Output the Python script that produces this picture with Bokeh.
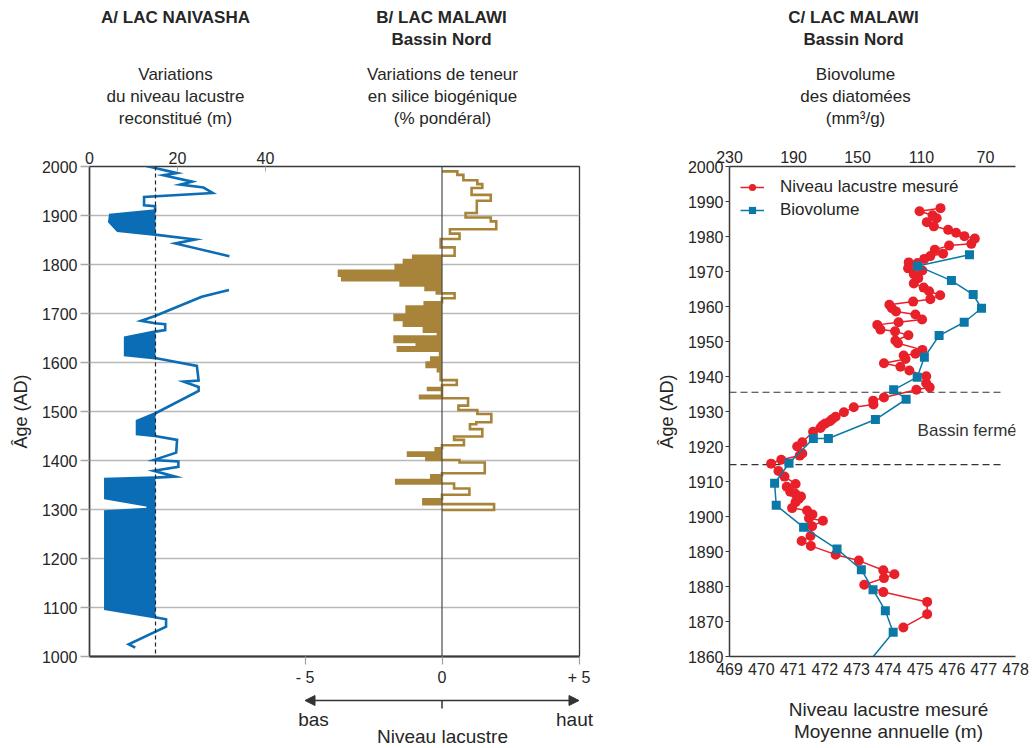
import numpy as np
from bokeh.plotting import figure
from bokeh.models import (Range1d, LinearAxis, FixedTicker, Label, Arrow, NormalHead,
                          Legend, LegendItem, Span, CustomJSTickFormatter)
from bokeh.layouts import row, column
from bokeh.embed import file_html
from bokeh.resources import INLINE
from bokeh.core.properties import value

# ---------------- data ----------------
# A / Lac Naivasha : reconstructed lake level (m) vs age
naivasha_years_1 = [2001, 1997, 1986.5, 1982, 1969, 1963, 1957, 1946, 1938, 1921, 1919, 1910,
                    1901, 1887, 1869, 1861, 1851, 1843, 1817]
naivasha_level_1 = [12.9, 14.9, 19.9, 16.8, 23.3, 20.6, 25.9, 28.0, 12.4, 12.4, 14.9, 14.9,
                    4.7, 4.5, 6.4, 14.9, 24.0, 19.5, 31.8]
naivasha_years_2 = [1748, 1734, 1695, 1685, 1680, 1678, 1666, 1663, 1651, 1615,
                    1609, 1593, 1563, 1561, 1550, 1542, 1496, 1481, 1454, 1450,
                    1442, 1416, 1401, 1398, 1387, 1379, 1367, 1365, 1362, 1323,
                    1308, 1301, 1296, 1097, 1080, 1076, 1061, 1025, 1018]
naivasha_level_2 = [31.7, 25.5, 14.9, 11.7, 14.9, 17.2, 17.2, 14.9, 8.1, 8.1,
                    14.9, 24.4, 24.8, 21.4, 24.8, 24.8, 14.9, 10.8, 10.8, 14.9,
                    19.9, 19.7, 14.6, 20.2, 20.2, 14.6, 19.5, 14.9, 3.6, 3.6,
                    13.2, 13.2, 3.6, 3.6, 14.9, 17.4, 17.4, 8.9, 10.4]
naivasha_ref_level = 15
naivasha_dry_episodes = [(1910, 1861), (1663, 1609), (1496, 1450), (1365, 1080)]

# B / Lac Malawi : biogenic silica anomaly, stepped (interval bounds + values)
silica_bounds = [1990, 1983, 1972, 1964, 1956, 1942, 1930, 1905, 1896, 1888,
                 1872, 1863, 1852, 1835, 1818, 1809, 1799, 1787, 1777, 1768,
                 1757, 1748, 1741, 1731, 1723, 1714, 1697, 1687, 1675, 1663,
                 1653, 1642, 1631, 1624, 1610, 1600, 1591, 1582, 1564, 1554,
                 1548, 1544, 1532, 1527, 1512, 1503, 1495, 1478, 1474, 1464,
                 1449, 1442, 1431, 1425, 1416, 1410, 1401, 1396, 1374, 1370,
                 1360, 1353, 1343, 1330, 1321, 1311, 1299]
silica_values = [0.56, 0.78, 1.29, 1.47, 1.08, 1.78, 1.27, 0.86, 1.78, 1.98,
                 0.29, 0.64, -0.05, 0.46, -1.05, -1.39, -1.69, -3.76, -3.64, -1.51,
                 -0.6, -0.19, 0.46, 0.0, -0.63, -1.29, -1.73, -1.39, -0.66, -0.15,
                 -1.73, -0.92, -1.61, -0.07, -0.39, -0.56, -0.15, -0.05, 0.54, 0.0,
                 -0.51, 0.0, -0.8, 0.95, 0.6, 1.29, 1.8, 1.25, 1.02, 1.47,
                 0.44, 0.8, 0.0, -0.23, -1.24, -0.57, 0.64, 1.56, 0.0, -0.39,
                 -1.67, 0.44, 1.0, 0.0, -0.68, 1.9]

# C / Lac Malawi : measured lake level (m) and diatom biovolume (mm3/g)
lake_years = [1988.1, 1987.2, 1986.05, 1985.2, 1984.1, 1982.9, 1981.9, 1981.05, 1980.1, 1979.4,
              1977.9, 1977.4, 1976.2, 1975.1, 1974.4, 1973.6, 1972.6, 1972.4, 1970.9, 1970.3,
              1969.2, 1968.1, 1966.6, 1965.4, 1964.35, 1963.2, 1962.1, 1961.4, 1960.5, 1959.5,
              1958.6, 1957.7, 1956.3, 1955.5, 1954.75, 1953.4, 1952.9, 1951.8, 1950.3, 1949.5,
              1947.6, 1946.5, 1946.0, 1945.0, 1943.8, 1942.8, 1941.7, 1940.05, 1938.05, 1936.9,
              1936.2, 1934.0, 1933.1, 1932.0, 1931.2, 1929.8, 1928.5, 1927.8, 1927.2, 1926.6,
              1926.0, 1925.3, 1924.2, 1921.2, 1920.0, 1918.0, 1917.4, 1916.2, 1915.1, 1913.0,
              1911.4, 1909.3, 1908.5, 1907.1, 1906.5, 1905.7, 1905.0, 1904.1, 1902.4, 1901.7,
              1900.6, 1899.5, 1898.8, 1897.2, 1894.45, 1893.0, 1891.6, 1889.1, 1887.4, 1884.65,
              1883.5, 1882.4, 1880.5, 1878.4, 1875.6, 1872.1, 1868.3]
lake_levels = [475.64, 474.98, 475.39, 475.52, 475.21, 475.43, 475.88, 476.13, 476.39, 476.72,
               476.61, 475.91, 475.46, 475.72, 475.32, 475.13, 474.64, 474.92, 474.62, 475.07,
               474.80, 474.94, 474.80, 475.11, 475.28, 475.63, 475.32, 474.78, 474.03, 474.11,
               474.24, 474.85, 475.06, 474.32, 473.65, 473.75, 474.21, 474.63, 474.22, 474.30,
               475.07, 474.85, 474.48, 474.54, 473.86, 474.38, 474.66, 475.19, 475.19, 475.30,
               474.88, 473.86, 473.52, 473.53, 472.91, 472.60, 472.34, 472.23, 472.16, 472.02,
               471.92, 471.86, 471.63, 471.29, 471.13, 471.29, 471.21, 470.63, 470.31, 470.54,
               470.73, 471.08, 470.80, 470.91, 471.07, 471.25, 471.18, 471.08, 470.97, 471.44,
               471.61, 471.50, 471.94, 471.60, 471.55, 471.27, 471.56, 472.34, 473.07, 473.84,
               474.19, 473.86, 473.24, 473.84, 475.22, 475.22, 474.47]
bio_years = [1974.8, 1971.6, 1967.4, 1963.4, 1959.5, 1955.5, 1951.7, 1945.5, 1939.8, 1936.2,
             1933.5, 1927.7, 1922.3, 1922.3, 1915.2, 1909.5, 1903.2, 1896.9, 1890.7, 1884.8,
             1879.1, 1873.1, 1866.9, 1858.0]
bio_values = [80.0, 112.5, 91.3, 77.7, 72.5, 83.3, 99.0, 108.2, 112.7, 127.4,
              119.6, 138.8, 168.2, 177.6, 192.8, 201.8, 200.8, 183.7, 162.8, 147.6,
              140.3, 132.6, 127.7, 143.7]
closed_basin_years = [1935.5, 1914.8]

age_ticks_ab = list(range(1000, 2001, 100))
level_ticks_a = [0, 20, 40]
silica_ticks = [-5, 0, 5]
arrow_span = [-5, 5]
age_ticks_c = list(range(1860, 2001, 10))
lake_ticks = list(range(469, 479))
bio_ticks = [230, 190, 150, 110, 70]

# ---------------- style / layout constants ----------------
FONT = "Liberation Sans"
INK = "#262626"
AXIS = "#3a3a3a"
GRID = "#b8b8b8"
BLUE_A = "#0a6db5"
GOLD = "#a8843a"
RED = "#e8202a"
BLUE_C = "#0b79a7"
TICK_PX = "16px"
HEAD_PX = "17px"
FOOT_PX = "19px"

W = 1030
HEAD_H = 130
MID_H = 558
FOOT_H = 58
F_TOP = 36            # frame top inside middle row (screen 166)
F_H = 490
F1_LEFT, F1_W = 89, 490
P1_W = 640
F2_LEFT_IN, F2_W = 89, 286
P2_W = W - P1_W
A_RANGE = (0, F1_W / 4.4)
B_RANGE = (-12.865, 5.018)


def style_axis(ax, size=TICK_PX):
    ax.major_label_text_font = FONT
    ax.major_label_text_font_size = size
    ax.major_label_text_color = INK
    ax.axis_label_text_font = FONT
    ax.axis_label_text_font_style = "normal"
    ax.axis_label_text_color = INK
    ax.minor_tick_line_color = None
    ax.axis_line_color = AXIS


def blank_fig(height, y_top):
    f = figure(frame_width=W, frame_height=height, min_border=0,
               x_range=Range1d(0, W), y_range=Range1d(y_top + height, y_top),
               x_axis_location=None, y_axis_location=None,
               output_backend="svg", toolbar_location=None)
    f.outline_line_color = None
    f.xgrid.visible = False
    f.ygrid.visible = False
    return f


def put_text(f, xs, ys, texts, size=HEAD_PX, bold=False, color=INK):
    f.text(x=xs, y=ys, text=texts, text_font=value(FONT), text_font_size=value(size),
           text_font_style="bold" if bold else "normal", text_color=color,
           text_align="center", text_baseline="middle")


# ================= header (titles) =================
head = blank_fig(HEAD_H, 0)
put_text(head, [175, 441, 441, 853, 853], [17, 17, 39, 17, 39],
         ["A/ LAC NAIVASHA", "B/ LAC MALAWI", "Bassin Nord", "C/ LAC MALAWI", "Bassin Nord"],
         bold=True)
put_text(head, [175, 175, 175, 442, 442, 442, 855, 855, 855],
         [74, 96, 118, 74, 96, 118, 74, 96, 118],
         ["Variations", "du niveau lacustre", "reconstitué (m)",
          "Variations de teneur", "en silice biogénique", "(% pondéral)",
          "Biovolume", "des diatomées", "(mm³/g)"])

# ================= Figure 1 : panels A and B =================
p1 = figure(frame_width=F1_W, frame_height=F_H, min_border_left=F1_LEFT,
            min_border_right=P1_W - F1_LEFT - F1_W,
            min_border_top=F_TOP, min_border_bottom=MID_H - F_TOP - F_H,
            x_range=Range1d(*A_RANGE), y_range=Range1d(1000, 2000),
            x_axis_location=None, output_backend="svg", toolbar_location=None)
p1.extra_x_ranges = {"b": Range1d(*B_RANGE)}
p1.outline_line_color = AXIS
p1.outline_line_width = 1.3

yax = p1.yaxis[0]
yax.ticker = FixedTicker(ticks=age_ticks_ab)
style_axis(yax)
yax.axis_label = "Âge (AD)"
yax.axis_label_text_font_size = "18px"
yax.axis_label_standoff = 8
yax.axis_line_width = 1.5
yax.major_tick_out = 9
yax.major_tick_in = 0
yax.major_tick_line_color = "#a8a8a8"
yax.major_tick_line_width = 1.5
yax.major_label_standoff = 3

p1.ygrid.ticker = FixedTicker(ticks=age_ticks_ab)
p1.ygrid.grid_line_color = GRID
p1.ygrid.grid_line_width = 1.5
p1.xgrid.visible = False

top_a = LinearAxis(ticker=FixedTicker(ticks=level_ticks_a))
style_axis(top_a)
top_a.axis_line_color = None
top_a.major_tick_in = 5
top_a.major_tick_out = 0
top_a.major_tick_line_color = "#a8a8a8"
top_a.major_label_standoff = 3
p1.add_layout(top_a, "above")

bot_b = LinearAxis(x_range_name="b", ticker=FixedTicker(ticks=silica_ticks))
style_axis(bot_b)
bot_b.formatter = CustomJSTickFormatter(
    code="return tick < 0 ? '- ' + Math.abs(tick) : (tick > 0 ? '+ ' + tick : '0');")
bot_b.axis_line_width = 2
bot_b.major_tick_out = 8
bot_b.major_tick_in = 0
bot_b.major_tick_line_color = "#a0a0a0"
bot_b.major_tick_line_width = 1.2
bot_b.major_label_standoff = 4
p1.add_layout(bot_b, "below")

p1.add_layout(Span(location=0, dimension="height", x_range_name="b",
                   line_color="#4a4a4a", line_width=1.2))
p1.add_layout(Span(location=naivasha_ref_level, dimension="height",
                   line_color="#222222", line_width=1.2, line_dash="4 3"))

# panel A : fills for dry episodes, then the curve
for yrs, lev in ((naivasha_years_1, naivasha_level_1), (naivasha_years_2, naivasha_level_2)):
    y = np.array(yrs, dtype=float)
    x = np.array(lev, dtype=float)
    for hi, lo in naivasha_dry_episodes:
        m = (y <= hi) & (y >= lo)
        if m.sum() >= 2:
            p1.harea(x1=x[m], x2=np.full(m.sum(), float(naivasha_ref_level)), y=y[m],
                     fill_color=BLUE_A)
    p1.line(x, y, line_color=BLUE_A, line_width=2.6, line_join="miter")

# panel B : stepped profile, negatives filled
sx, sy = [0.0], [silica_bounds[0]]
for v, top, bot in zip(silica_values, silica_bounds[:-1], silica_bounds[1:]):
    sx += [v, v]
    sy += [top, bot]
sx.append(0.0)
sy.append(silica_bounds[-1])
sx = np.array(sx)
sy = np.array(sy, dtype=float)
p1.harea(x1=np.minimum(sx, 0), x2=np.zeros_like(sx), y=sy, x_range_name="b",
         fill_color=GOLD)
p1.line(sx, sy, x_range_name="b", line_color=GOLD, line_width=2.6, line_join="miter")

# ================= Figure 2 : panel C =================
p2 = figure(frame_width=F2_W, frame_height=F_H, min_border_left=F2_LEFT_IN,
            min_border_right=P2_W - F2_LEFT_IN - F2_W,
            min_border_top=F_TOP, min_border_bottom=MID_H - F_TOP - F_H,
            x_range=Range1d(469, 478), y_range=Range1d(1860, 2000),
            output_backend="svg", toolbar_location=None)
p2.extra_x_ranges = {"bio": Range1d(230, 230 - F2_W / 1.6)}
p2.outline_line_color = None
p2.xgrid.visible = False
p2.ygrid.visible = False

lax = p2.yaxis[0]
lax.ticker = FixedTicker(ticks=age_ticks_c)
style_axis(lax)
lax.axis_label = "Âge (AD)"
lax.axis_label_text_font_size = "18px"
lax.axis_label_standoff = 8
lax.axis_line_width = 1.5
lax.major_tick_out = 4
lax.major_tick_in = 0
lax.major_tick_line_color = AXIS
lax.major_label_standoff = 2

bax = p2.xaxis[0]
bax.ticker = FixedTicker(ticks=lake_ticks)
style_axis(bax)
bax.axis_line_width = 1.5
bax.major_tick_out = 0
bax.major_tick_in = 0
bax.major_label_standoff = 6

tax = LinearAxis(x_range_name="bio", ticker=FixedTicker(ticks=bio_ticks))
style_axis(tax)
tax.axis_line_width = 1.5
tax.major_tick_out = 0
tax.major_tick_in = 0
tax.major_label_standoff = 4
p2.add_layout(tax, "above")

p2.segment(x0=469, x1=477.6, y0=closed_basin_years, y1=closed_basin_years,
           line_color="#333333", line_width=1.2, line_dash="7 4")
p2.add_layout(Label(x=476.48, y=1924.7, text="Bassin fermé", text_font=FONT,
                    text_font_size="17px", text_color="#333333",
                    text_align="center", text_baseline="middle"))

r_line = p2.line(lake_levels, lake_years, line_color=RED, line_width=1.5)
r_pts = p2.scatter(lake_levels, lake_years, marker="circle", size=10,
                   fill_color=RED, line_color=None)
b_line = p2.line(bio_values, bio_years, x_range_name="bio", line_color=BLUE_C, line_width=1.5)
b_pts = p2.scatter(bio_values, bio_years, x_range_name="bio", marker="square", size=9,
                   fill_color=BLUE_C, line_color=None)

legend = Legend(items=[LegendItem(label="Niveau lacustre mesuré", renderers=[r_line, r_pts]),
                       LegendItem(label="Biovolume", renderers=[b_line, b_pts])],
                location="top_left", margin=11, padding=0, spacing=3,
                glyph_width=24, glyph_height=18, label_height=18, label_standoff=16,
                label_text_font=FONT, label_text_font_size="17px", label_text_color=INK,
                border_line_color=None, background_fill_alpha=0)
p2.add_layout(legend)

# ================= footer =================
foot = blank_fig(FOOT_H, HEAD_H + MID_H)
# x range "b" aligned with the B axis of figure 1
b_per_px = (B_RANGE[1] - B_RANGE[0]) / F1_W
foot.extra_x_ranges = {"b": Range1d(B_RANGE[0] - F1_LEFT * b_per_px,
                                    B_RANGE[0] + (W - F1_LEFT) * b_per_px)}
ARROW_Y = 700
head_kw = dict(size=10, fill_color="#333333", line_color="#333333")
foot.add_layout(Arrow(x_start=arrow_span[0], x_end=arrow_span[1], y_start=ARROW_Y, y_end=ARROW_Y,
                      x_range_name="b", line_color="#333333", line_width=1.5,
                      start=NormalHead(**head_kw), end=NormalHead(**head_kw)))
foot.segment(x0=[0], x1=[0], y0=[ARROW_Y], y1=[ARROW_Y + 8], x_range_name="b",
             line_color="#333333", line_width=1.5)
put_text(foot, [313, 574, 442], [719, 719, 736], ["bas", "haut", "Niveau lacustre"], size=FOOT_PX)
put_text(foot, [888, 888], [709, 731], ["Niveau lacustre mesuré", "Moyenne annuelle (m)"],
         size=FOOT_PX)

layout = column(head, row(p1, p2), foot)
open("out.html", "w").write(file_html(layout, INLINE))
